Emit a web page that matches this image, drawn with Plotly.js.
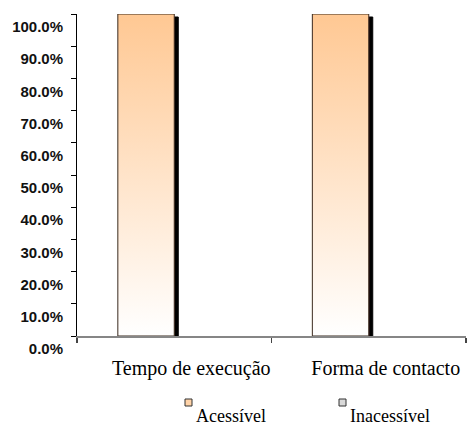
<!DOCTYPE html>
<html>
<head>
<meta charset="utf-8">
<script src="https://cdn.plot.ly/plotly-3.0.1.min.js"></script>
<style>
  html, body { margin: 0; padding: 0; background: #fff; }
  #chart { width: 468px; height: 427px; }
</style>
</head>
<body>
<div id="chart"></div>
<script>
// Categories and series (shares of each answer)
const categories = ['Tempo de execução', 'Forma de contacto'];
const acessivel = [1.0, 1.0];
const inacessivel = [0.0, 0.0];
const seriesNames = ['Acessível', 'Inacessível'];

const SERIF = '"Liberation Serif", "Times New Roman", Times, serif';
const SANS = '"Liberation Sans", Arial, Helvetica, sans-serif';

const W = 468, H = 427;
const M = { l: 77, r: 2, t: 14, b: 91 };
const plotW = W - M.l - M.r, plotH = H - M.t - M.b;
// pixel -> paper helpers for the hand-built legend
const px = x => (x - M.l) / plotW;
const py = y => (H - M.b - y) / plotH;

const traces = [
  {
    type: 'bar', name: seriesNames[0], x: categories, y: acessivel,
    marker: { color: '#FFC893', line: { color: '#3a2a1e', width: 1 } },
    showlegend: false, hoverinfo: 'skip'
  },
  {
    type: 'bar', name: seriesNames[1], x: categories, y: inacessivel,
    marker: { color: '#D9D9D9', line: { width: 0 } },
    showlegend: false, hoverinfo: 'skip'
  }
];

const layout = {
  width: W, height: H,
  margin: M,
  paper_bgcolor: '#fff', plot_bgcolor: '#fff',
  barmode: 'group', bargap: 0.42, bargroupgap: 0,
  showlegend: false,
  xaxis: {
    type: 'category', range: [-0.5, 1.5],
    showline: true, linecolor: '#868686', linewidth: 1.6,
    ticks: 'outside', tickson: 'boundaries', ticklen: 5, tickwidth: 1.5, tickcolor: '#444',
    showgrid: false, zeroline: false, layer: 'below traces',
    tickfont: { family: SERIF, size: 20, color: '#000' },
    ticklabelshift: 17, ticklabelstandoff: 13
  },
  xaxis2: {
    overlaying: 'x', anchor: 'y', type: 'linear', range: [-0.5, 1.5],
    tick0: -0.5, dtick: 1, ticks: 'inside', ticklen: 5, tickwidth: 1.5, tickcolor: '#444',
    showticklabels: false, showline: false, showgrid: false, zeroline: false, layer: 'below traces'
  },
  yaxis: {
    range: [0, 1], dtick: 0.1, tickformat: '.1%',
    showline: true, linecolor: '#000', linewidth: 1,
    ticks: 'outside', ticklen: 5, tickwidth: 1, tickcolor: '#000',
    showgrid: false, zeroline: false, layer: 'below traces',
    tickfont: { family: SANS, size: 15, color: '#111', weight: 'bold' },
    ticklabelshift: 13, ticklabelstandoff: 5
  },
  yaxis2: {
    overlaying: 'y', anchor: 'x', range: [0, 1], dtick: 0.1,
    ticks: 'inside', ticklen: 5, tickwidth: 1, tickcolor: '#000',
    showticklabels: false, showline: false, showgrid: false, zeroline: false, layer: 'below traces'
  },
  shapes: [
    { type: 'rect', xref: 'paper', yref: 'paper', x0: px(185), x1: px(192), y0: py(406), y1: py(399),
      fillcolor: '#FFD3A8', line: { color: '#333', width: 1 } },
    { type: 'rect', xref: 'paper', yref: 'paper', x0: px(339), x1: px(346), y0: py(406), y1: py(399),
      fillcolor: '#D9D9D9', line: { color: '#333', width: 1 } }
  ],
  annotations: [
    { xref: 'paper', yref: 'paper', x: px(195), y: py(427), xanchor: 'left', yanchor: 'bottom',
      borderpad: 0, showarrow: false, text: seriesNames[0],
      font: { family: SERIF, size: 18, color: '#000' } },
    { xref: 'paper', yref: 'paper', x: px(349), y: py(427), xanchor: 'left', yanchor: 'bottom',
      borderpad: 0, showarrow: false, text: seriesNames[1],
      font: { family: SERIF, size: 18, color: '#000' } }
  ]
};

Plotly.newPlot('chart', traces, layout, { staticPlot: true, displayModeBar: false }).then(gd => {
  const svg = gd.querySelector('svg.main-svg');
  const NS = 'http://www.w3.org/2000/svg';
  let defs = svg.querySelector('defs');
  if (!defs) { defs = document.createElementNS(NS, 'defs'); svg.insertBefore(defs, svg.firstChild); }

  // vertical peach-to-white fill for the bars
  const grad = document.createElementNS(NS, 'linearGradient');
  grad.setAttribute('id', 'barFade');
  grad.setAttribute('x1', '0'); grad.setAttribute('y1', '0');
  grad.setAttribute('x2', '0'); grad.setAttribute('y2', '1');
  [['0', '#FFC893'], ['1', '#FFFFFF']].forEach(([o, c]) => {
    const s = document.createElementNS(NS, 'stop');
    s.setAttribute('offset', o); s.setAttribute('stop-color', c);
    grad.appendChild(s);
  });
  defs.appendChild(grad);

  // hard black drop shadow to the right and below
  const filt = document.createElementNS(NS, 'filter');
  filt.setAttribute('id', 'barShadow');
  filt.setAttribute('x', '-20%'); filt.setAttribute('y', '-20%');
  filt.setAttribute('width', '150%'); filt.setAttribute('height', '150%');
  const ds = document.createElementNS(NS, 'feDropShadow');
  ds.setAttribute('dx', '4'); ds.setAttribute('dy', '3');
  ds.setAttribute('stdDeviation', '0');
  ds.setAttribute('flood-color', '#000'); ds.setAttribute('flood-opacity', '1');
  filt.appendChild(ds);
  defs.appendChild(filt);

  // let the shadow spill past the plot edge
  gd.querySelectorAll('.subplot.xy > .plot').forEach(g => g.removeAttribute('clip-path'));

  const barTraces = gd.querySelectorAll('.barlayer .trace');
  if (barTraces[0]) {
    barTraces[0].querySelectorAll('path').forEach(p => {
      p.style.fill = 'url(#barFade)';
      p.setAttribute('filter', 'url(#barShadow)');
    });
  }
});
</script>
</body>
</html>
